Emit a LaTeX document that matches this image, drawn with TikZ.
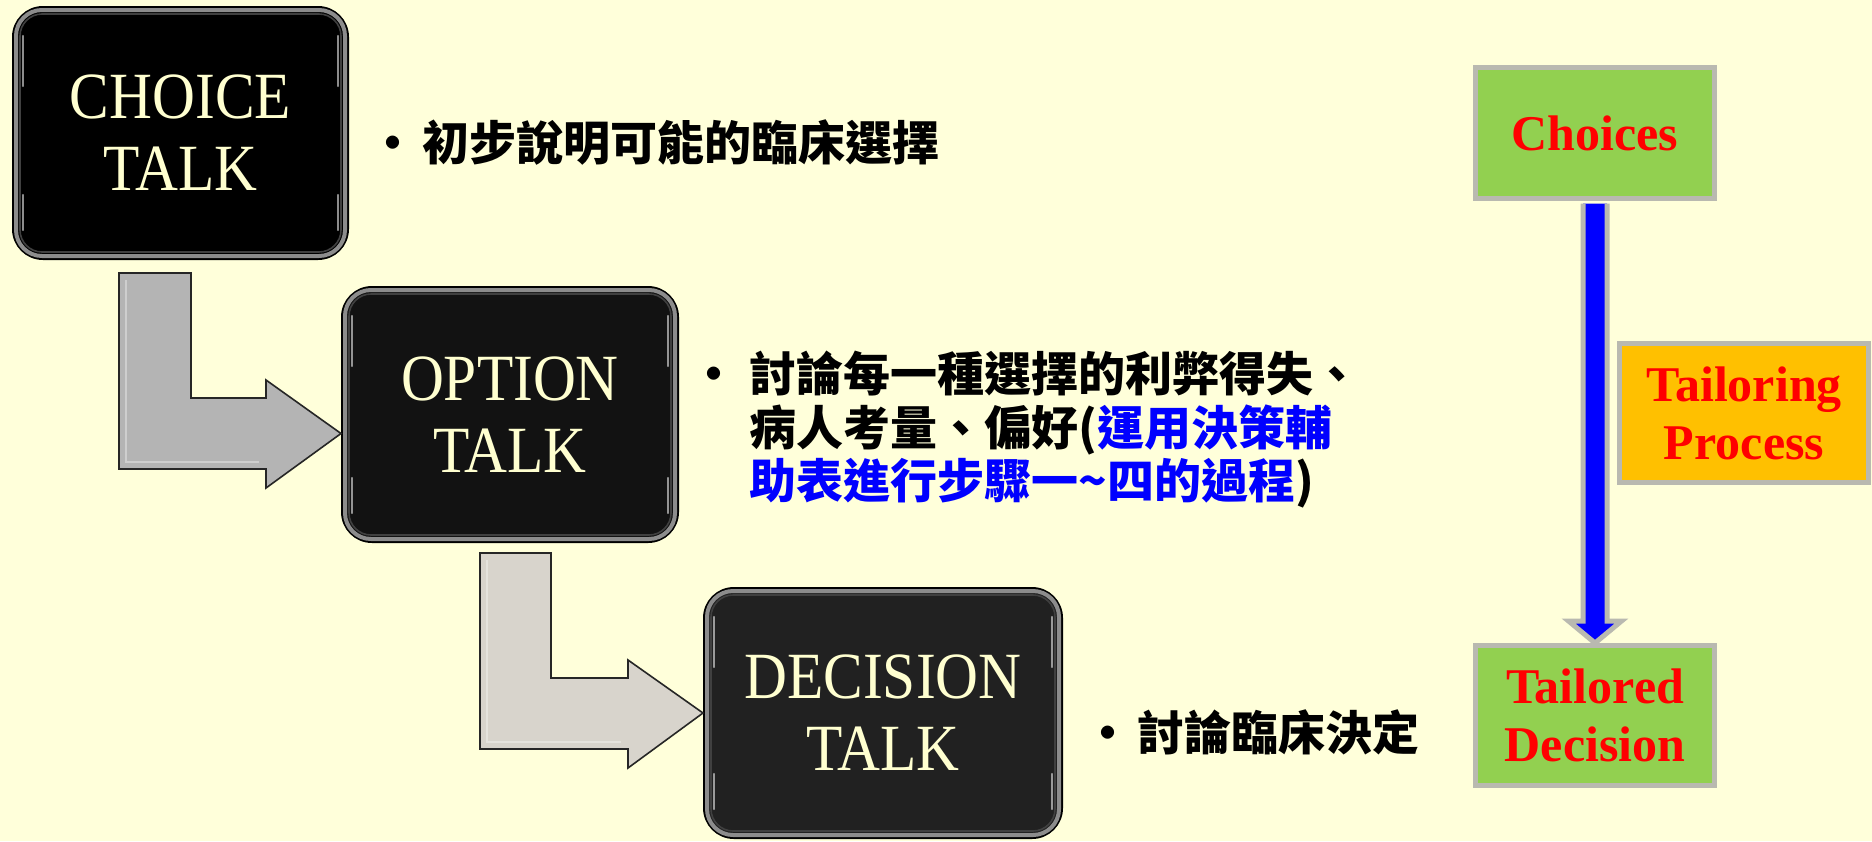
\documentclass[tikz,border=0pt]{standalone}
\usepackage{fontspec}
\usetikzlibrary{calc}
\newfontfamily\cjk{Noto Sans CJK TC}
\newfontfamily\boxfont[FakeStretch=0.9]{Liberation Serif}
\newfontfamily\labfont{Liberation Serif}
\definecolor{bgc}{RGB}{255,255,218}
\definecolor{cream}{RGB}{255,255,208}
\definecolor{tgreen}{RGB}{146,208,80}
\definecolor{torange}{RGB}{255,192,0}
\definecolor{tgray}{RGB}{185,185,176}
\definecolor{arrA}{RGB}{180,180,180}
\definecolor{arrB}{RGB}{216,212,204}
\definecolor{tblue}{RGB}{0,0,255}
\newcommand{\bulA}{\hbox to 21.5pt{\hbox to 14pt{\hss•\hss}\hss}}
\newcommand{\bulB}{\hbox to 24.5pt{\hbox to 14pt{\hss•\hss}\hss}}
\begin{document}
\begin{tikzpicture}[x=0.5pt,y=-0.5pt,
  talk/.style={rounded corners=15pt, draw=black, line width=1pt, text=cream,
    font=\boxfont\fontsize{33}{36}\selectfont, align=center, inner sep=0pt},
  bevel/.style={draw=black!45, line width=2pt, rounded corners=13pt},
  bevelin/.style={draw=black!75, line width=0.8pt, rounded corners=11pt},
  shine/.style={draw=white, opacity=0.55, line width=1.1pt, line cap=round},
  rbox/.style={draw=tgray, line width=2.5pt, text=red,
    font=\labfont\bfseries\fontsize{25}{29}\selectfont, align=center, inner sep=0pt},
  larrow/.style={draw=black!85, line width=0.8pt, line join=miter},
  larrowin/.style={draw=white, line width=1pt, opacity=0.35},
  cjktext/.style={font=\cjk\bfseries\fontsize{23.5}{27}\selectfont, inner sep=0pt, anchor=base west},
  bluearrow/.style={draw=tgray, fill=tblue, line width=2.5pt, line join=miter}
]
\useasboundingbox (0,0) rectangle (1872,841);
\fill[bgc] (0,0) rectangle (1872,841);

% black talk boxes
\node[talk, fill=black, minimum width=167.5pt, minimum height=126pt] (choice) at (180.5,133) {CHOICE\\TALK};
\node[talk, fill=black!93, minimum width=168pt, minimum height=127.5pt] (option) at (510,414.5) {OPTION\\TALK};
\node[talk, fill=black!87, minimum width=179pt, minimum height=125pt] (decision) at (883,713) {DECISION\\TALK};
\foreach \n in {choice,option,decision}{
  \draw[bevel] ($(\n.north west)+(4,4)$) rectangle ($(\n.south east)+(-4,-4)$);
  \draw[bevelin] ($(\n.north west)+(8,8)$) rectangle ($(\n.south east)+(-8,-8)$);
  \draw[shine] ($(\n.north west)+(11,30)$) -- ($(\n.north west)+(11,80)$);
  \draw[shine] ($(\n.north east)+(-11,30)$) -- ($(\n.north east)+(-11,80)$);
  \draw[shine] ($(\n.south west)+(11,-30)$) -- ($(\n.south west)+(11,-65)$);
  \draw[shine] ($(\n.south east)+(-11,-30)$) -- ($(\n.south east)+(-11,-65)$);
}

% L-shaped gray arrows
\draw[larrow, fill=arrA] (119,273) -- (191,273) -- (191,398) -- (266,398) -- (266,380)
  -- ($(option.west)+(0,19)$) -- (266,488) -- (266,469) -- (119,469) -- cycle;
\draw[larrowin] (126,280) -- (126,462) -- (259,462);
\draw[larrow, fill=arrB] (480,553) -- (551,553) -- (551,678) -- (628,678) -- (628,660)
  -- (decision.west) -- (628,768) -- (628,749) -- (480,749) -- cycle;
\draw[larrowin] (487,560) -- (487,742) -- (621,742);

% texts
\node[cjktext] (t1) at (379,160) {\bulA 初步說明可能的臨床選擇};
\node[cjktext] (o1) at (700,391) {\bulB 討論每一種選擇的利弊得失、};
\node[cjktext] (o2) at (749,445) {病人考量、偏好(\textcolor{tblue}{運用決策輔}};
\node[cjktext] (o3) at (749,498) {\textcolor{tblue}{助表進行步驟一\textasciitilde 四的過程})};
\node[cjktext] (t3) at (1094,750) {\bulA 討論臨床決定};

% right column
\node[rbox, fill=tgreen, minimum width=119.5pt, minimum height=65.5pt] (choices) at (1595,133) {Choices};
\node[rbox, fill=tgreen, minimum width=119.5pt, minimum height=70pt] (tailored) at (1595,715.5) {Tailored\\Decision};
\node[rbox, fill=torange, minimum width=124.5pt, minimum height=69.5pt] (process) at (1744,413) {Tailoring\\Process};
\draw[bluearrow] ($(choices.south)+(-12,2.5)$) -- ($(tailored.north)+(-12,-22)$) -- ($(tailored.north)+(-26.5,-22)$)
  -- (tailored.north) -- ($(tailored.north)+(26.5,-22)$) -- ($(tailored.north)+(12,-22)$)
  -- ($(choices.south)+(12,2.5)$);
\end{tikzpicture}
\end{document}
